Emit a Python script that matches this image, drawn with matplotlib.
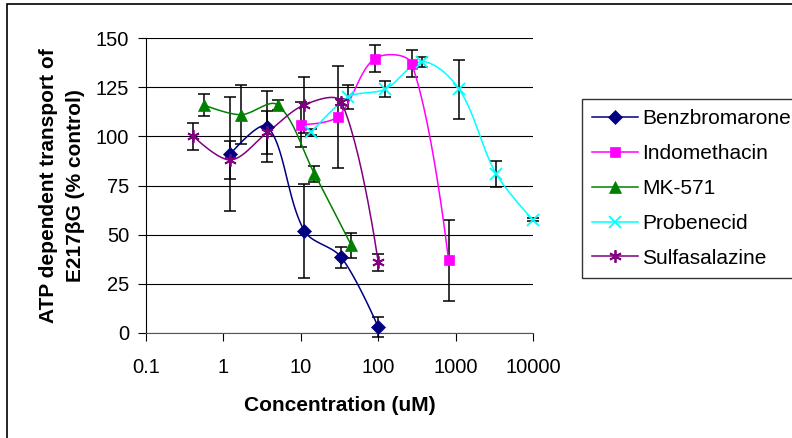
import numpy as np
import matplotlib
matplotlib.use("Agg")
import matplotlib.pyplot as plt
from matplotlib.patches import Rectangle

plt.rcParams['font.family'] = ['Liberation Sans', 'DejaVu Sans']

# --------------------------------------------------------
# Data
# --------------------------------------------------------
benz_x = [1.23, 3.7, 11.1, 33.3, 100]
benz_y = [91, 105, 52, 38.5, 3]
benz_err = [29, 18, 24, 5.2, 5]

indo_x = [10, 30, 90, 270, 810]
indo_y = [106, 110, 139.5, 137, 37]
indo_err = [11.5, 26, 7, 7, 20.5]

mk_x = [0.556, 1.67, 5, 15, 45]
mk_y = [116, 111, 116, 81, 44.5]
mk_err = [5.5, 15, 2.5, 4, 6.6]

prob_x = [13.7, 41.2, 123, 370, 1111, 3333, 10000]
prob_y = [102, 120, 124, 138, 124, 81, 57.5]
prob_err = [1.5, 6, 4, 2.5, 15, 6.6, 0.8]

sulf_x = [0.41, 1.23, 3.7, 11.1, 33.3, 100]
sulf_y = [100, 88, 102, 116, 117.5, 36]
sulf_err = [7, 9.6, 11, 14.4, 1.5, 4.4]

x_ticks = [0.1, 1, 10, 100, 1000, 10000]
x_tick_labels = ["0.1", "1", "10", "100", "1000", "10000"]
y_ticks = [0, 25, 50, 75, 100, 125, 150]

series = [
    ("Benzbromarone", benz_x, benz_y, benz_err, "#000080", "D", 7),
    ("Indomethacin", indo_x, indo_y, indo_err, "#FF00FF", "s", 7),
    ("MK-571", mk_x, mk_y, mk_err, "#008000", "^", 8),
    ("Probenecid", prob_x, prob_y, prob_err, "#00FFFF", "x", 8),
    ("Sulfasalazine", sulf_x, sulf_y, sulf_err, "#800080", (6, 2, 0), 9),
]


def smooth_line(ax, x, y, n=30):
    """Smoothed line like Excel's: bezier segments built in display space,
    tangents weighted by the neighbouring segment lengths."""
    pts = ax.transData.transform(np.column_stack([x, y]))
    m = len(pts)

    def tangent(i):
        if i == 0 or i == m - 1:
            return np.zeros(2), 0, 0
        d0 = np.linalg.norm(pts[i] - pts[i - 1])
        d1 = np.linalg.norm(pts[i + 1] - pts[i])
        return (pts[i + 1] - pts[i - 1]) / 3.0, d0, d1

    out = [pts[0]]
    for i in range(m - 1):
        p1, p2 = pts[i], pts[i + 1]
        t1, a0, a1 = tangent(i)
        t2, b0, b1 = tangent(i + 1)
        c1 = p1 + (t1 * a1 / (a0 + a1) if a0 + a1 > 0 else 0)
        c2 = p2 - (t2 * b0 / (b0 + b1) if b0 + b1 > 0 else 0)
        t = np.linspace(0, 1, n)[1:, None]
        seg = ((1 - t) ** 3) * p1 + 3 * ((1 - t) ** 2) * t * c1 \
            + 3 * (1 - t) * t ** 2 * c2 + t ** 3 * p2
        out.extend(seg)
    out = np.array(out)
    back = ax.transData.inverted().transform(out)
    return back[:, 0], back[:, 1]


fig = plt.figure(figsize=(7.92, 4.38), dpi=100)
ax = fig.add_axes([146 / 792, 1 - 333 / 438, 387 / 792, 295 / 438])

ax.set_xscale("log")
ax.set_xlim(0.1, 10000)
ax.set_ylim(0, 150)

handles = []
for name, xs, ys, errs, color, marker, ms in series:
    ax.errorbar(xs, ys, yerr=errs, fmt="none", ecolor="black",
                elinewidth=1.1, capsize=4.5, capthick=1.1, zorder=3,
                clip_on=False)
    sx, sy = smooth_line(ax, xs, ys)
    ax.plot(sx, sy, color=color, lw=1.1, zorder=4, clip_on=False)
    mew = 1.3 if marker in ("x", (6, 2, 0)) else 0.5
    ax.plot(xs, ys, linestyle="none", marker=marker, markersize=ms,
            color=color, markeredgecolor=color, markeredgewidth=mew,
            zorder=5, clip_on=False)
    h, = ax.plot([], [], color=color, lw=1.1, marker=marker, markersize=ms,
                 markeredgecolor=color, markeredgewidth=mew)
    handles.append((h, name))

ax.set_xticks(x_ticks)
ax.set_xticklabels(x_tick_labels)
ax.xaxis.set_minor_locator(matplotlib.ticker.NullLocator())
ax.set_yticks(y_ticks)
ax.tick_params(axis="x", direction="out", length=6, width=0.8, pad=12,
               labelsize=14.5)
ax.tick_params(axis="y", direction="out", length=6, width=0.8, pad=6,
               labelsize=14.5)

ax.grid(axis="y", color="black", lw=0.8)
ax.set_axisbelow(True)
for s in ("top", "right"):
    ax.spines[s].set_visible(False)
ax.spines["left"].set_linewidth(0.8)
ax.spines["bottom"].set_linewidth(0.8)
ax.spines["bottom"].set_color("#555555")

ax.set_xlabel("Concentration (uM)", fontsize=15, fontweight="bold",
              labelpad=14)
ax.set_ylabel("ATP dependent transport of\nE217\u03b2G (% control)",
              fontsize=15, fontweight="bold", labelpad=8,
              linespacing=1.55)

leg = fig.legend([h for h, _ in handles], [n for _, n in handles],
                 loc="upper left", bbox_to_anchor=(582 / 792, 1 - 99 / 438),
                 fontsize=15, frameon=True, fancybox=False,
                 handlelength=2.2, handletextpad=0.2, labelspacing=0.76,
                 borderpad=0.5, borderaxespad=0)
leg.get_frame().set_edgecolor("black")
leg.get_frame().set_linewidth(1.0)

# outer chart border (runs off the right and bottom edges of the image)
fig.patches.append(Rectangle((7 / 792, -0.2), 2, 1.2 - 4 / 438,
                             transform=fig.transFigure, fill=False,
                             edgecolor="black", lw=1.2))

fig.savefig("out.png", dpi=100)
